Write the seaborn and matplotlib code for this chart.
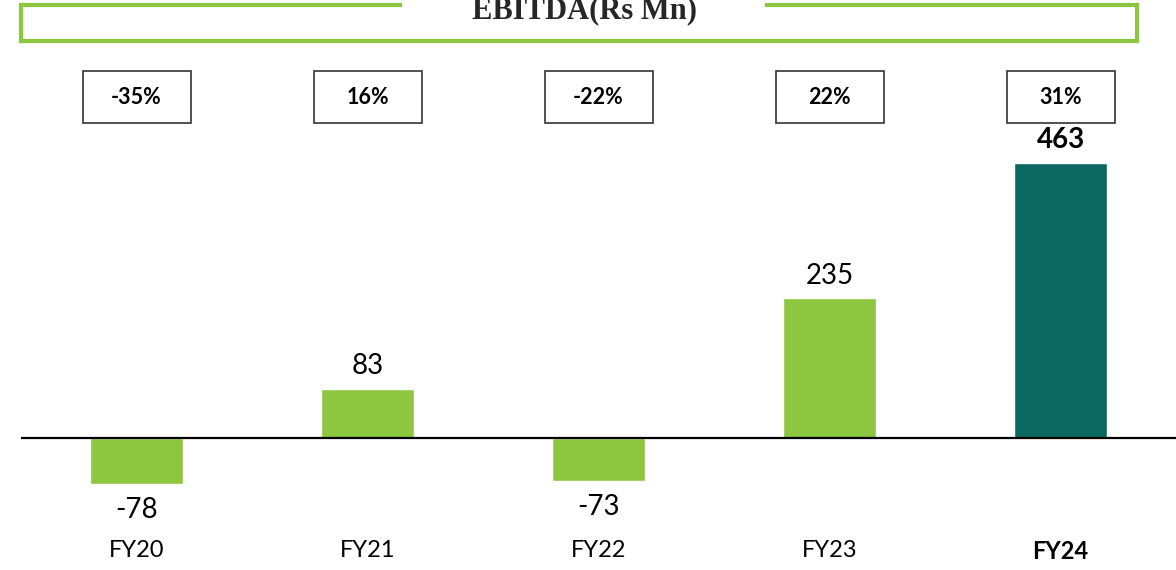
import matplotlib
matplotlib.use("Agg")
import matplotlib.pyplot as plt
from matplotlib.patches import Rectangle
from matplotlib.lines import Line2D
from matplotlib.transforms import blended_transform_factory
import seaborn as sns
import pandas as pd

# data
years = ["FY20", "FY21", "FY22", "FY23", "FY24"]
ebitda = [-78, 83, -73, 235, 463]
growth = ["-35%", "16%", "-22%", "22%", "31%"]
bar_colors = ["#8DC63F", "#8DC63F", "#8DC63F", "#8DC63F", "#0B6860"]

sns.set_style("white")
plt.rcParams["font.family"] = ["Lato", "DejaVu Sans"]

W, H = 1176, 570
fig = plt.figure(figsize=(W / 100, H / 100), dpi=100)

# axes placed so that zero line sits at y=438px and 463 reaches y=163px
y_lo, y_hi = -130, 463
px_per_unit = (438 - 163) / 463
ax_top = 163
ax_bot = 163 + (y_hi - y_lo) * px_per_unit
ax = fig.add_axes([21 / W, 1 - ax_bot / H, 1155 / W, (ax_bot - ax_top) / H])

df = pd.DataFrame({"year": years, "ebitda": ebitda})
sns.barplot(data=df, x="year", y="ebitda", hue="year", palette=bar_colors,
            width=0.4, saturation=1, legend=False, ax=ax)

ax.set_xlim(-0.5, 4.5)
ax.set_ylim(y_lo, y_hi)
ax.axhline(0, color="black", lw=1.6, zorder=5)
sns.despine(ax=ax, left=True, bottom=True)
ax.set_yticks([])
ax.set_xlabel("")
ax.set_ylabel("")
ax.tick_params(axis="x", length=0, pad=18, labelsize=17, labelcolor="black")
for lbl in ax.get_xticklabels():
    if lbl.get_text() == "FY24":
        lbl.set_fontweight("bold")

# value labels
for i, v in enumerate(ebitda):
    last = i == len(ebitda) - 1
    if v >= 0:
        ax.annotate(str(v), (i, v), xytext=(0, 7), textcoords="offset points",
                    ha="center", va="bottom", fontsize=20, color="black",
                    fontweight="bold" if last else "normal")
    else:
        ax.annotate(str(v), (i, v), xytext=(0, -9), textcoords="offset points",
                    ha="center", va="top", fontsize=20, color="black")

# growth boxes
trans = blended_transform_factory(ax.transData, fig.transFigure)
box_w = 108 / 231
box_h = 52 / H
box_yc = 1 - 97 / H
for i, g in enumerate(growth):
    ax.add_patch(Rectangle((i - box_w / 2, box_yc - box_h / 2), box_w, box_h,
                           transform=trans, fill=False, edgecolor="#333333",
                           lw=1.2, clip_on=False))
    ax.text(i, box_yc, g, transform=trans, ha="center", va="center",
            fontsize=15.5, fontweight="bold", color="black", clip_on=False)

# title frame
green = "#8DC63F"
x0, x1 = 21 / W, 1137 / W
yb, yt = 1 - 41 / H, 1 - 5 / H
gap0, gap1 = 400 / W, 767 / W
for xs, ys in [([x0, x0], [yb, yt]), ([x1, x1], [yb, yt]), ([x0, x1], [yb, yb]),
               ([x0, gap0], [yt, yt]), ([gap1, x1], [yt, yt])]:
    fig.add_artist(Line2D(xs, ys, transform=fig.transFigure, color=green,
                          lw=3, solid_capstyle="projecting"))
fig.text(584 / W, 1 - 18 / H, "EBITDA(Rs Mn)", ha="center", va="baseline",
         fontsize=22, fontweight="bold", family=["Liberation Serif", "DejaVu Serif"])

fig.savefig("out.png", dpi=100)
